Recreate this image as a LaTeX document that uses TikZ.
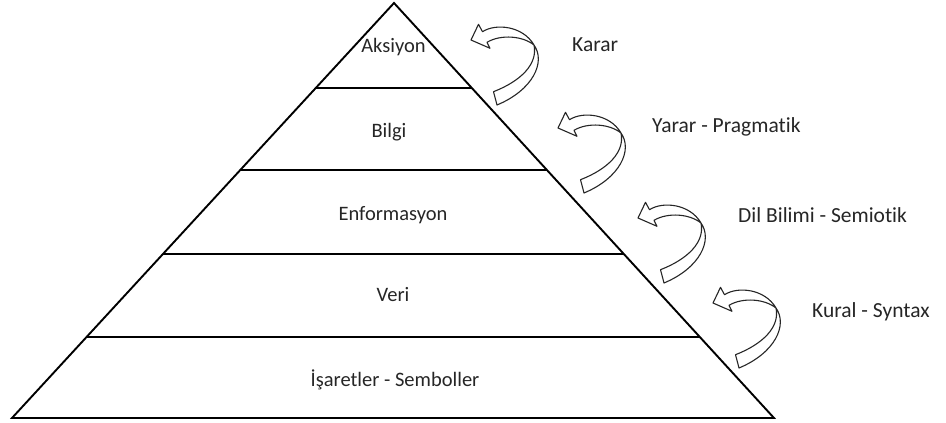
\documentclass[tikz,border=0pt]{standalone}
\usepackage{fontspec}
\setmainfont{Carlito}[Ligatures=NoCommon]
\begin{document}
\begin{tikzpicture}[x=1pt,y=-1pt,
  edge/.style={line width=1.9pt,line join=miter},
  arrowline/.style={draw=black!85,line width=1.1pt,fill=white,line join=round},
  tier/.style={font=\fontsize{20.5}{24}\selectfont,text=black!85,inner sep=0pt,anchor=base},
  side/.style={font=\fontsize{21.5}{24}\selectfont,text=black!85,inner sep=0pt,anchor=base west},
  curvedarrow/.pic={
    % head and upper band of the ribbon
    \draw[arrowline] (0,0) -- (7.5,-15.7) -- (11.5,-8.3)
      .. controls (25,-17) and (52,-14) .. (63,5)
      .. controls (52,-4) and (30,-6) .. (16,2.3) -- (19,8.3) -- cycle;
    % lower band running down to the tail
    \draw[arrowline] (63,5) .. controls (75,22) and (62,50) .. (26,65)
      -- (22.5,51.7) .. controls (50,41) and (67,24) .. (63,5);
  }]
\useasboundingbox (0,0) rectangle (946,423);

% pyramid outline
\coordinate (apex) at (394,3);
\coordinate (bl) at (12,418);
\coordinate (br) at (774,418);
\draw[edge] (bl) -- (apex) -- (br) -- cycle;

% tier separators
\draw[edge] (315.8,88) -- (471.8,88);
\draw[edge] (240.3,170) -- (546.9,170);
\draw[edge] (163,254) -- (623.8,254);
\draw[edge] (86.6,337) -- (699.8,337);

% tier labels
\node[tier] (aksiyon) at (393.5,52) {Aksiyon};
\node[tier] (bilgi) at (389,137) {Bilgi};
\node[tier] (enf) at (393,220) {Enformasyon};
\node[tier] (veri) at (393,301.5) {Veri};
\node[tier] (isaret) at (395,386) {İşaretler - Semboller};

% curved arrows between tiers
\pic at (471,40) {curvedarrow};
\pic at (558,128) {curvedarrow};
\pic at (638,218) {curvedarrow};
\pic at (713,303) {curvedarrow};

% side labels
\node[side] (karar) at (572,51) {Karar};
\node[side] (yarar) at (652,132) {Yarar - Pragmatik};
\node[side] (dil) at (738,222) {Dil Bilimi - Semiotik};
\node[side] (kural) at (812,317) {Kural - Syntax};
\end{tikzpicture}
\end{document}
